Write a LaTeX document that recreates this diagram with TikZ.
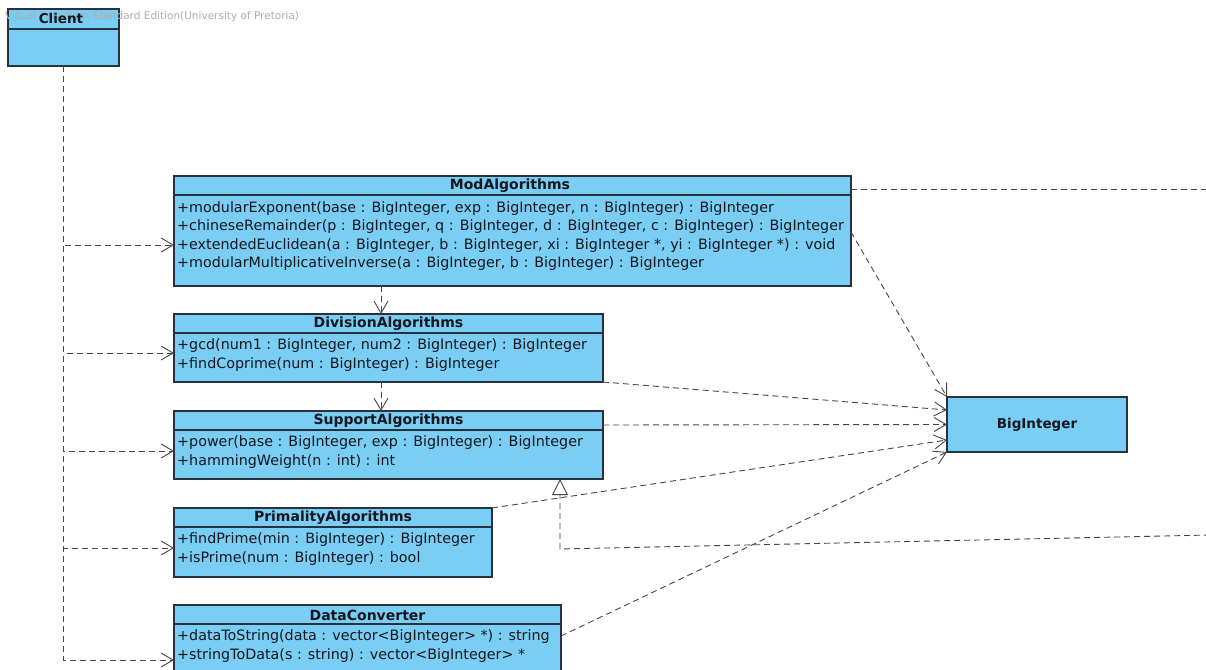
\documentclass[tikz,border=0pt]{standalone}
\usepackage{fontspec}
\setmainfont{DejaVu Sans}
\usetikzlibrary{arrows.meta,calc}
\definecolor{clsfill}{RGB}{122,205,243}
\definecolor{clsdraw}{RGB}{40,50,62}
\definecolor{conn}{RGB}{70,70,70}
\definecolor{txt}{RGB}{20,22,30}
\tikzset{
  cls/.style={draw=clsdraw, fill=clsfill, line width=1.2pt, anchor=north west, inner sep=0pt, outer sep=0pt},
  clsline/.style={draw=clsdraw, line width=1.2pt},
  ttl/.style={font=\fontsize{14}{16}\selectfont\bfseries, text=txt, inner sep=0pt},
  op/.style={font=\fontsize{14.3}{16}\selectfont, text=txt, anchor=west, inner sep=0pt},
  dep/.style={draw=conn, line width=0.9pt, dash pattern=on 6pt off 4pt, -{Straight Barb[length=12pt,width=14pt,line width=0.9pt]}},
  real/.style={draw=conn, line width=0.9pt, dash pattern=on 6pt off 4pt, -{Triangle[length=16pt,width=16pt,fill=white,line width=0.9pt]}},
  plain/.style={draw=conn, line width=0.9pt, dash pattern=on 6pt off 4pt},
  wm/.style={font=\fontsize{10.5}{12}\selectfont, text=black!32, anchor=west, inner sep=0pt}
}
\begin{document}
\begin{tikzpicture}[x=1pt,y=-1pt]
\useasboundingbox (0,0) rectangle (1206,669);
\clip (0,0) rectangle (1206,669);
\fill[white] (0,0) rectangle (1206,669);

% Client
\node[cls, minimum width=111pt, minimum height=57pt] (client) at (8,9) {};
\draw[clsline] ([yshift=-20pt]client.north west) -- ([yshift=-20pt]client.north east);
\node[wm] (watermark) at (5,17) {Visual Paradigm Standard Edition(University of Pretoria)};
\node[ttl, font=\fontsize{13.5}{15}\selectfont\bfseries] (client-t) at (61,18) {Client};

% ModAlgorithms
\node[cls, minimum width=677pt, minimum height=110pt] (mod) at (174,176) {};
\draw[clsline] ([yshift=-19pt]mod.north west) -- ([yshift=-19pt]mod.north east);
\node[ttl] (mod-t) at (510,186) {ModAlgorithms};
\node[op] (mod-1) at (177,208.5) {+modularExponent(base : BigInteger, exp : BigInteger, n : BigInteger) : BigInteger};
\node[op] (mod-2) at (177,227) {+chineseRemainder(p : BigInteger, q : BigInteger, d : BigInteger, c : BigInteger) : BigInteger};
\node[op] (mod-3) at (177,245.5) {+extendedEuclidean(a : BigInteger, b : BigInteger, xi : BigInteger *, yi : BigInteger *) : void};
\node[op] (mod-4) at (177,264) {+modularMultiplicativeInverse(a : BigInteger, b : BigInteger) : BigInteger};

% DivisionAlgorithms
\node[cls, minimum width=429pt, minimum height=68pt] (div) at (174,314) {};
\draw[clsline] ([yshift=-19pt]div.north west) -- ([yshift=-19pt]div.north east);
\node[ttl] (div-t) at (388.5,324) {DivisionAlgorithms};
\node[op] (div-1) at (177,345.5) {+gcd(num1 : BigInteger, num2 : BigInteger) : BigInteger};
\node[op] (div-2) at (177,364.5) {+findCoprime(num : BigInteger) : BigInteger};

% SupportAlgorithms
\node[cls, minimum width=429pt, minimum height=68pt] (sup) at (174,411) {};
\draw[clsline] ([yshift=-19pt]sup.north west) -- ([yshift=-19pt]sup.north east);
\node[ttl] (sup-t) at (388.5,421) {SupportAlgorithms};
\node[op] (sup-1) at (177,442.5) {+power(base : BigInteger, exp : BigInteger) : BigInteger};
\node[op] (sup-2) at (177,461.5) {+hammingWeight(n : int) : int};

% PrimalityAlgorithms
\node[cls, minimum width=318pt, minimum height=69pt] (prim) at (174,508) {};
\draw[clsline] ([yshift=-19pt]prim.north west) -- ([yshift=-19pt]prim.north east);
\node[ttl] (prim-t) at (333,518) {PrimalityAlgorithms};
\node[op] (prim-1) at (177,539.5) {+findPrime(min : BigInteger) : BigInteger};
\node[op] (prim-2) at (177,558.5) {+isPrime(num : BigInteger) : bool};

% DataConverter
\node[cls, minimum width=387pt, minimum height=72pt] (dc) at (174,605) {};
\draw[clsline] ([yshift=-19pt]dc.north west) -- ([yshift=-19pt]dc.north east);
\node[ttl] (dc-t) at (367.5,615) {DataConverter};
\node[op] (dc-1) at (177,636.5) {+dataToString(data : vector<BigInteger> *) : string};
\node[op] (dc-2) at (177,655.5) {+stringToData(s : string) : vector<BigInteger> *};

% BigInteger
\node[cls, minimum width=180pt, minimum height=55pt] (big) at (947,397) {};
\node[ttl, font=\fontsize{13.5}{15}\selectfont\bfseries] (big-t) at (big.center) {BigInteger};

% off-page ends and bends
\coordinate (offA) at (1210,189);
\coordinate (offB) at (1210,535);
\coordinate (bend) at (560,549);

% Client dependencies
\draw[dep] (client.south) |- (mod.west |- 0,245);
\draw[dep] (client.south) |- (div.west |- 0,353);
\draw[dep] (client.south) |- (sup.west |- 0,451);
\draw[dep] (client.south) |- (prim.west |- 0,548);
\draw[dep] (client.south) |- (dc.west |- 0,660);

% chain
\draw[dep] (mod.south -| 381,0) -- (div.north -| 381,0);
\draw[dep] (div.south -| 381,0) -- (sup.north -| 381,0);

% to BigInteger
\draw[dep] (mod.east |- 0,232) -- (big.north west);
\draw[dep] (div.south east) -- ([yshift=14.5pt]big.west);
\draw[dep] (sup.east |- 0,425) -- (big.west);
\draw[dep] (prim.north east) -- ([yshift=-15.5pt]big.west);
\draw[dep] (dc.east |- 0,636) -- (big.south west);

% off-page
\draw[plain] (mod.east |- 0,189) -- (offA);
\draw[real] (offB) -- (bend) -- (sup.south -| bend);
\end{tikzpicture}
\end{document}
